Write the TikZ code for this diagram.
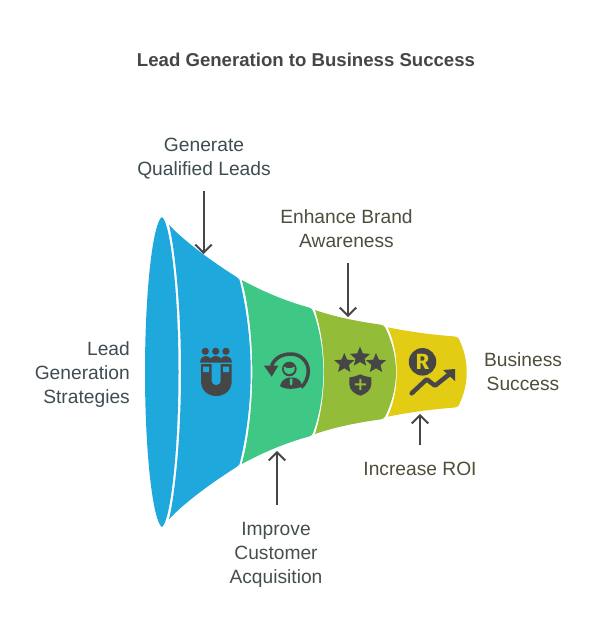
\documentclass[tikz,border=0pt]{standalone}
\usepackage{fontspec}
\setmainfont{Liberation Sans}
\newfontfamily\coinfont{Fira Sans}
\usetikzlibrary{arrows.meta,shapes.geometric}
\definecolor{cblue}{HTML}{1EA8DB}
\definecolor{cgreen}{HTML}{3EC785}
\definecolor{colive}{HTML}{93BC39}
\definecolor{cyellow}{HTML}{E2CC14}
\definecolor{cdark}{HTML}{464646}
\definecolor{tblue}{HTML}{3F4D52}
\definecolor{tgreen}{HTML}{46504B}
\definecolor{tolive}{HTML}{4C4F3E}
\definecolor{tyellow}{HTML}{504E38}
\tikzset{
  x=1pt,y=-1pt,
  titlelabel/.style={font=\fontsize{18.6}{24}\selectfont\bfseries,text=cdark,inner sep=0pt},
  lab/.style={font=\fontsize{19.2}{24}\selectfont,align=center,inner sep=0pt},
  pointer/.style={draw=cdark,line width=2pt,-{Straight Barb[length=8pt,width=16.5pt,line width=2pt]}},
  icon/.style={fill=cdark,draw=none},
  star5/.style={star,star points=5,star point ratio=2.2,fill=cdark,draw=none,inner sep=0pt,minimum size=21pt}
}
\begin{document}
\begin{tikzpicture}
\useasboundingbox (0,0) rectangle (600,636);
\fill[white] (0,0) rectangle (600,636);
% funnel
\fill[cblue] (162,217) .. controls (153,222) and (145,290) .. (145,372)
  .. controls (145,454) and (153,522) .. (162,527)
  .. controls (170,522) and (178.5,454) .. (178.5,372)
  .. controls (178.5,290) and (170,222) .. (162,217) -- cycle;
\fill[cblue] (169,224.7) .. controls (180,237) and (205,257) .. (235,276)
  .. controls (237.5,277.5) and (238.5,278.5) .. (239.5,280)
  .. controls (246,305) and (250.7,340) .. (250.7,372)
  .. controls (250.7,404) and (246,439) .. (239.5,464)
  .. controls (238.5,465.5) and (237.5,466.5) .. (235,468)
  .. controls (205,487) and (180,507) .. (169,519.3)
  .. controls (174,499) and (181,444) .. (181,372)
  .. controls (181,300) and (174,245) .. (169,224.7) -- cycle;
\fill[cgreen] (241.7,280) .. controls (262,291) and (285,301) .. (309,307.5)
  .. controls (311,308) and (312,309) .. (313,311)
  .. controls (320,330) and (323.3,352) .. (323.3,372)
  .. controls (323.3,392) and (320,414) .. (313,433)
  .. controls (312,435) and (311,436) .. (309,436.5)
  .. controls (285,443) and (262,453) .. (241.7,464)
  .. controls (248.5,440) and (252.3,405) .. (252.3,372)
  .. controls (252.3,339) and (248.5,304) .. (241.7,280) -- cycle;
\fill[colive] (315,310) .. controls (335,317) and (358,321.5) .. (380,324.5)
  .. controls (383,325) and (384.5,326) .. (385.5,328)
  .. controls (392,342) and (396,357) .. (396,372)
  .. controls (396,387) and (392,402) .. (385.5,416)
  .. controls (384.5,418) and (383,419) .. (380,419.5)
  .. controls (358,422.5) and (335,427) .. (315,434)
  .. controls (321,415) and (324,393) .. (324,372)
  .. controls (324,351) and (321,329) .. (315,310) -- cycle;
\fill[cyellow] (387.7,327.3) .. controls (410,332) and (435,335) .. (455,336.5)
  .. controls (457.5,337) and (458,338) .. (459,339)
  .. controls (464,350) and (466.7,360) .. (466.7,372)
  .. controls (466.7,384) and (464,394) .. (459,405)
  .. controls (458,406) and (457.5,407) .. (455,407.5)
  .. controls (435,409) and (410,412) .. (387.7,416.7)
  .. controls (394,403) and (396.7,388) .. (396.7,372)
  .. controls (396.7,356) and (394,341) .. (387.7,327.3) -- cycle;
% icon 1: people and magnet
\fill[icon] (205.3,351.3) circle (3.6) (215.7,351.3) circle (3.6) (226,351.3) circle (3.6);
\fill[icon] (200,362.5) .. controls (200.5,358) and (203,356) .. (205.3,356)
  .. controls (207.5,356) and (209.5,357) .. (210.5,358.5)
  .. controls (211.5,357) and (213.5,356) .. (215.7,356)
  .. controls (218,356) and (220,357) .. (221,358.5)
  .. controls (222,357) and (224,356) .. (226,356)
  .. controls (229,356) and (231.5,358) .. (232,362.5) -- cycle;
\fill[icon] (201,364) -- (231.7,364) -- (231.7,381) .. controls (231.7,390) and (225,396) .. (216.3,396)
  .. controls (207.5,396) and (201,390) .. (201,381) -- cycle;
\fill[cblue] (211.7,364) -- (220.7,364) -- (220.7,380.5) .. controls (220.7,383.5) and (219,385) .. (216.2,385)
  .. controls (213.4,385) and (211.7,383.5) .. (211.7,380.5) -- cycle;
\fill[cblue] (203,366.7) rectangle (209,372) (223,366.7) rectangle (229,372);
% icon 2: returning customer
\draw[cdark,line width=3.5pt] (271.5,366) .. controls (274.5,358) and (282,354) .. (291,354)
  .. controls (300.5,354) and (308.3,361.5) .. (308.3,371)
  .. controls (308.3,378) and (305,384) .. (301,387.5);
\fill[icon] (264,365.7) -- (278.3,365.7) -- (271.7,376.7) -- cycle;
\fill[icon] (289.3,369) circle (7.3);
\fill[cgreen] (284,366.5) .. controls (286.5,368.8) and (292,368.8) .. (294.5,366.5)
  .. controls (295.5,371) and (293,374) .. (289.3,374)
  .. controls (285.5,374) and (283,371) .. (284,366.5) -- cycle;
\fill[icon] (280,386) .. controls (281,380.5) and (286,378) .. (289,377.5) -- (293,377.5)
  .. controls (298,378) and (301.5,381) .. (302,386)
  .. controls (298,389.5) and (284,390) .. (280,386) -- cycle;
\fill[cgreen] (289.8,378.5) -- (292.4,378.5) -- (292.4,384) -- (291.1,385.5) -- (289.8,384) -- cycle;
% icon 3: stars and shield
\node[star5] (s1) at (344.3,363.5) {};
\node[star5] (s2) at (360,357.2) {};
\node[star5] (s3) at (376,363.5) {};
\fill[icon] (349.3,377.5) .. controls (355,376.5) and (358,375.5) .. (360.3,374.3)
  .. controls (362.5,375.5) and (366,376.5) .. (371.3,377.5)
  -- (371.3,384) .. controls (371.3,390) and (366,394) .. (360.3,395.7)
  .. controls (354.5,394) and (349.3,390) .. (349.3,384) -- cycle;
\fill[colive] (354.8,383.3) rectangle (365.8,385.3) (359.3,378.8) rectangle (361.3,389.8);
% icon 4: rupee coin and growth
\node[circle,fill=cdark,minimum size=27.5pt,inner sep=0pt,font=\coinfont\fontsize{22}{22}\selectfont\bfseries,text=cyellow] (coin) at (422.5,361.8) {R};
\draw[cdark,line width=4.5pt,line cap=round,line join=round] (411.7,393.3) -- (426.7,379.3) -- (435,385.7) -- (449,374.5);
\fill[icon] (443,370) -- (455,369) -- (455,381) -- cycle;
% labels
\node[titlelabel] (title) at (306,60) {Lead Generation to Business Success};
\node[lab,text=tblue] (genleads) at (204,159) {Generate\\Qualified Leads};
\node[lab,text=tolive] (brand) at (346.5,229) {Enhance Brand\\Awareness};
\node[lab,text=tblue,align=right,anchor=east] (strategies) at (130,375) {Lead\\Generation\\Strategies};
\node[lab,text=tyellow] (success) at (523,372) {Business\\Success};
\node[lab,text=tyellow] (roi) at (420,469) {Increase ROI};
\node[lab,text=tgreen] (acq) at (276,555) {Improve\\Customer\\Acquisition};
% connectors
\coordinate (a1) at (203.5,191);
\coordinate (b1) at (203.5,254);
\coordinate (a2) at (348,263);
\coordinate (b2) at (348,317);
\coordinate (a3) at (277,505);
\coordinate (b3) at (277,451);
\coordinate (a4) at (420,445);
\coordinate (b4) at (420,414);
\draw[pointer] (a1) -- (b1);
\draw[pointer] (a2) -- (b2);
\draw[pointer] (a3) -- (b3);
\draw[pointer] (a4) -- (b4);
\end{tikzpicture}
\end{document}
